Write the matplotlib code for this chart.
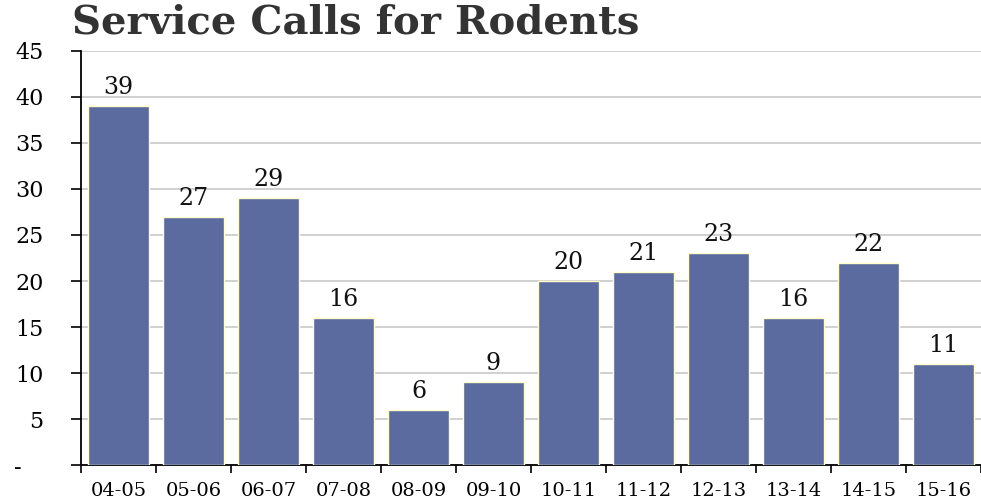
import matplotlib
matplotlib.use("Agg")
import matplotlib.pyplot as plt
import numpy as np

categories = ["04-05", "05-06", "06-07", "07-08", "08-09", "09-10",
              "10-11", "11-12", "12-13", "13-14", "14-15", "15-16"]
values = [39, 27, 29, 16, 6, 9, 20, 21, 23, 16, 22, 11]
y_ticks = [0, 5, 10, 15, 20, 25, 30, 35, 40, 45]
y_tick_labels = ["-   ", "5", "10", "15", "20", "25", "30", "35", "40", "45"]
title = "Service Calls for Rodents"

plt.rcParams['font.family'] = ['DejaVu Serif']

fig = plt.figure(figsize=(9.81, 5.01), dpi=100)
ax = fig.add_axes([81/981, 1-465/501, 900/981, (465-51)/501])

x = np.arange(len(categories))
ax.bar(x, values, width=0.82, color="#5B6B9F", edgecolor="#FFFFCC", linewidth=1.0, zorder=3)

for xi, v in zip(x, values):
    ax.annotate(str(v), (xi, v), xytext=(0, 5), textcoords="offset points",
                ha="center", va="bottom", fontsize=17, color="#111111")

ax.set_xlim(-0.5, len(categories) - 0.5)
ax.set_ylim(0, 45)
ax.set_yticks(y_ticks)
ax.set_yticklabels(y_tick_labels, fontsize=16)
ax.yaxis.grid(True, color="#C8C8C8", linewidth=1.2, zorder=0)
ax.set_axisbelow(True)

ax.set_xticks(x)
ax.set_xticklabels(categories, fontsize=14)
ax.set_xticks(np.arange(-0.5, len(categories) - 0.5 + 0.01, 1), minor=True)
ax.tick_params(axis="x", which="major", length=0, pad=12)
ax.tick_params(axis="x", which="minor", length=6, width=1.2, direction="out")
ax.tick_params(axis="y", length=7, width=1.2, direction="out", pad=20)

for s in ["top", "right"]:
    ax.spines[s].set_visible(False)
ax.spines["left"].set_linewidth(1.3)
ax.spines["bottom"].set_linewidth(1.3)

fig.text(72/981, 1-23/501, title, fontsize=29, fontweight="bold", color="#333333",
         ha="left", va="center")

fig.savefig("out.png", dpi=100)
